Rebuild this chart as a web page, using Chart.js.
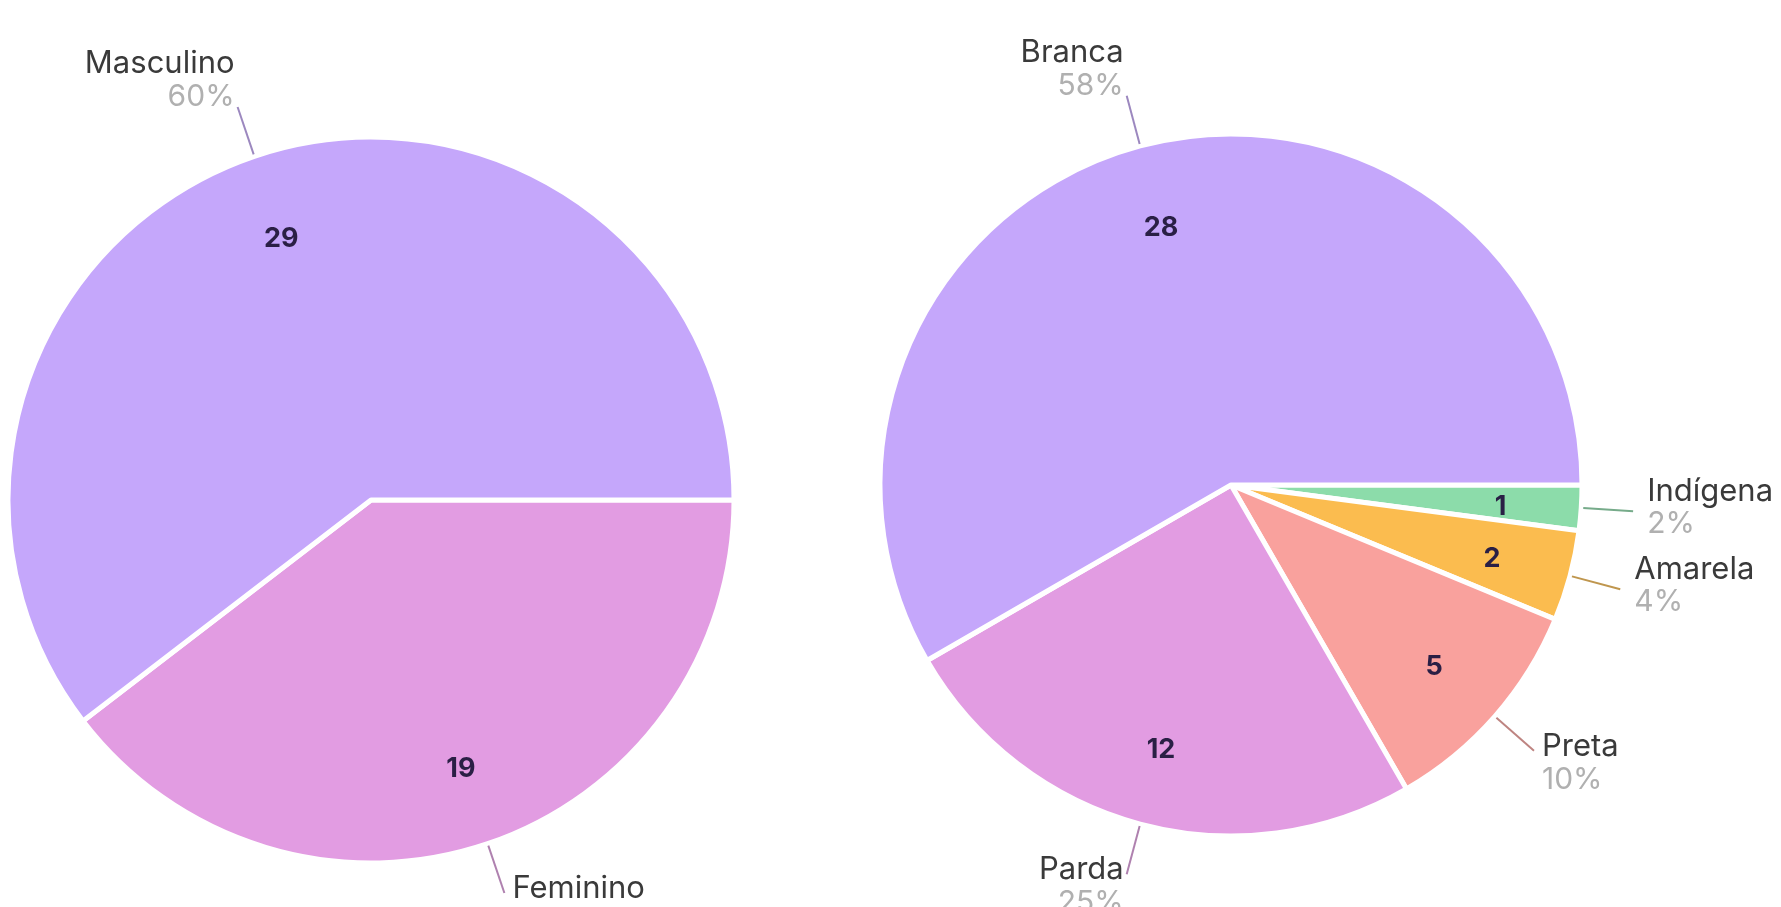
<!DOCTYPE html>
<html lang="pt-BR">
<head>
  <meta charset="UTF-8" />
  <title>Gênero e cor/raça</title>
  <script src="https://cdn.jsdelivr.net/npm/chart.js"></script>
  <style>
    html, body { margin: 0; padding: 0; background: #fff; }
    body { width: 1781px; height: 907px; position: relative; overflow: hidden; font-family: Inter, sans-serif; }
    .box { position: absolute; top: 0; height: 907px; }
    #boxGenero { left: 0; width: 780px; }
    #boxRaca { left: 800px; width: 981px; }
  </style>
</head>
<body>
  <div class="box" id="boxGenero"><canvas id="generoChart"></canvas></div>
  <div class="box" id="boxRaca"><canvas id="racaChart"></canvas></div>

  <script>
    // slices listed clockwise from 3 o'clock
    const generoLabels = ['Feminino', 'Masculino'];
    const generoValues = [19, 29];
    const generoColors = ['#e29ce2', '#c5a7fb'];

    const racaLabels = ['Indígena', 'Amarela', 'Preta', 'Parda', 'Branca'];
    const racaValues = [1, 2, 5, 12, 28];
    const racaColors = ['#8cdcaa', '#fbbc4f', '#f9a19d', '#e29ce2', '#c5a7fb'];

    function darken(hex) {
      const n = parseInt(hex.slice(1), 16);
      const mix = c => Math.round(c * 0.66 + 128 * 0.2);
      return `rgb(${mix(n >> 16)}, ${mix((n >> 8) & 255)}, ${mix(n & 255)})`;
    }

    // values inside, leader lines + name/percent outside
    const pieLabels = {
      id: 'pieLabels',
      afterDatasetsDraw(chart) {
        const ctx = chart.ctx;
        const ds = chart.data.datasets[0];
        const total = ds.data.reduce((a, b) => a + b, 0);
        chart.getDatasetMeta(0).data.forEach((arc, i) => {
          const p = arc.getProps(['x', 'y', 'startAngle', 'endAngle', 'outerRadius'], true);
          const mid = (p.startAngle + p.endAngle) / 2;
          const cos = Math.cos(mid), sin = Math.sin(mid);
          ctx.save();

          ctx.font = '700 27px Inter';
          ctx.fillStyle = '#2a1f45';
          ctx.textAlign = 'center';
          ctx.textBaseline = 'middle';
          const rv = p.outerRadius * 0.77;
          ctx.fillText(String(ds.data[i]), p.x + cos * rv, p.y + sin * rv + 4);

          const r0 = p.outerRadius + 2, r1 = p.outerRadius + 52;
          const ex = p.x + cos * r1, ey = p.y + sin * r1;
          ctx.strokeStyle = darken(ds.backgroundColor[i]);
          ctx.lineWidth = 2;
          ctx.beginPath();
          ctx.moveTo(p.x + cos * r0, p.y + sin * r0);
          ctx.lineTo(ex, ey);
          ctx.stroke();

          let nameY, pctY, tx;
          if (sin < -0.5) { pctY = ey - 1; nameY = pctY - 33; }
          else if (sin > 0.5) { nameY = ey + 5; pctY = nameY + 33; }
          else { nameY = ey - 10; pctY = ey + 22; }
          if (cos >= 0) {
            ctx.textAlign = 'left';
            tx = ex + (sin > 0.5 ? 8 : 14);
          } else {
            ctx.textAlign = 'right';
            tx = ex - 3;
          }
          ctx.textBaseline = 'alphabetic';
          ctx.font = '400 31px Inter';
          ctx.fillStyle = '#3a3a3a';
          ctx.fillText(chart.data.labels[i], tx, nameY);
          ctx.font = '400 30px Inter';
          ctx.fillStyle = '#b0b0b0';
          ctx.fillText(Math.round(ds.data[i] / total * 100) + '%', tx, pctY);
          ctx.restore();
        });
      }
    };

    function makePie(id, labels, values, colors, padding) {
      return new Chart(document.getElementById(id), {
        type: 'pie',
        data: {
          labels: labels,
          datasets: [{
            data: values,
            backgroundColor: colors,
            borderColor: '#ffffff',
            borderWidth: 5
          }]
        },
        options: {
          responsive: true,
          maintainAspectRatio: false,
          animation: false,
          rotation: 90,
          layout: { padding: padding },
          plugins: { legend: { display: false }, tooltip: { enabled: false } }
        },
        plugins: [pieLabels]
      });
    }

    makePie('generoChart', generoLabels, generoValues, generoColors,
      { left: 5.5, right: 43.5, top: 134.5, bottom: 41.5 });
    makePie('racaChart', racaLabels, racaValues, racaColors,
      { left: 77.5, right: 196.5, top: 131.5, bottom: 68.5 });
  </script>
</body>
</html>
